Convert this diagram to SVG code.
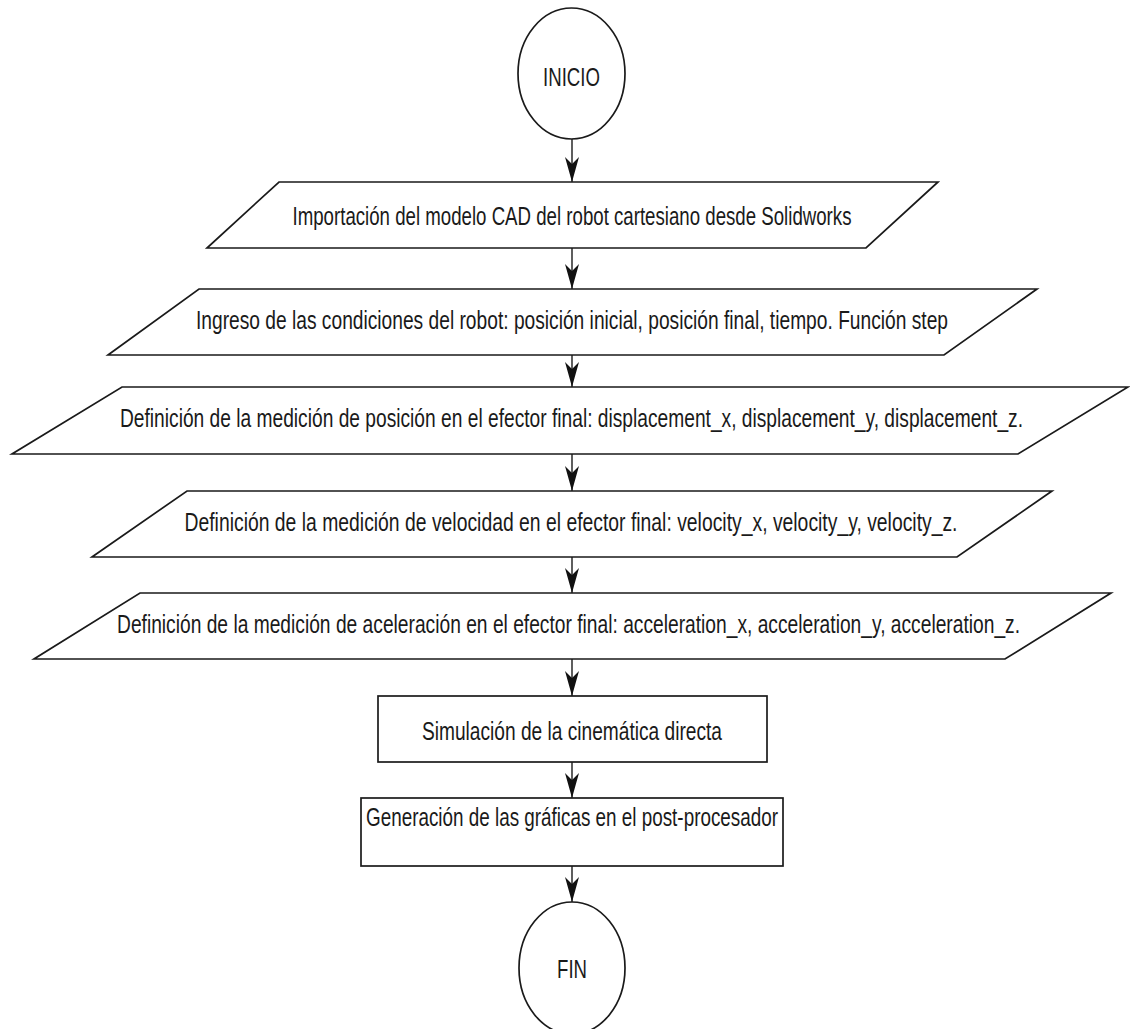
<svg xmlns="http://www.w3.org/2000/svg" width="1130" height="1029" viewBox="0 0 1130 1029">
  <style>
    .shape { fill: #ffffff; stroke: #1a1a1a; stroke-width: 1.7; }
    .lbl { font-family: "Liberation Sans", Arial, sans-serif; font-size: 19px; fill: #1a1a1a; text-anchor: middle; }
    .edge { fill: none; stroke: #1a1a1a; stroke-width: 1.4; }
  </style>
  <defs>
    <marker id="arrow" markerUnits="userSpaceOnUse" markerWidth="26" markerHeight="16" viewBox="0 0 26 16" refX="25" refY="8" orient="auto">
      <path d="M25,8 L0,1 L7,8 L0,15 Z" fill="#111111"/>
    </marker>
  </defs>
  <rect width="1130" height="1029" fill="#ffffff"/>

  <g id="edges">
    <line class="edge" x1="572" y1="139" x2="572" y2="182" marker-end="url(#arrow)"/>
    <line class="edge" x1="572" y1="248" x2="572" y2="289" marker-end="url(#arrow)"/>
    <line class="edge" x1="572" y1="355" x2="572" y2="387" marker-end="url(#arrow)"/>
    <line class="edge" x1="572" y1="454" x2="572" y2="491" marker-end="url(#arrow)"/>
    <line class="edge" x1="572" y1="557" x2="572" y2="593" marker-end="url(#arrow)"/>
    <line class="edge" x1="572" y1="659" x2="572" y2="696" marker-end="url(#arrow)"/>
    <line class="edge" x1="572" y1="762" x2="572" y2="798" marker-end="url(#arrow)"/>
    <line class="edge" x1="572" y1="866" x2="572" y2="902" marker-end="url(#arrow)"/>
  </g>

  <g id="inicio">
    <ellipse class="shape" cx="571.5" cy="73.5" rx="53.5" ry="65.5"/>
    <text class="lbl" transform="translate(571.5,86) scale(1,1.35)" textLength="57" lengthAdjust="spacingAndGlyphs">INICIO</text>
  </g>

  <g id="importacion">
    <polygon class="shape" points="279,182 938,182 866,248 207,248"/>
    <text class="lbl" transform="translate(572,225) scale(1,1.35)" textLength="559" lengthAdjust="spacingAndGlyphs">Importación del modelo CAD del robot cartesiano desde Solidworks</text>
  </g>

  <g id="ingreso">
    <polygon class="shape" points="199,289 1037,289 944,355 108,355"/>
    <text class="lbl" transform="translate(572,329) scale(1,1.35)" textLength="752" lengthAdjust="spacingAndGlyphs">Ingreso de las condiciones del robot: posición inicial, posición final, tiempo. Función step</text>
  </g>

  <g id="posicion">
    <polygon class="shape" points="122,387 1128,387 1018,454 12,454"/>
    <text class="lbl" transform="translate(571.5,427) scale(1,1.35)" textLength="903" lengthAdjust="spacingAndGlyphs">Definición de la medición de posición en el efector final: displacement_x, displacement_y, displacement_z.</text>
  </g>

  <g id="velocidad">
    <polygon class="shape" points="187,491 1052,491 957,557 92,557"/>
    <text class="lbl" transform="translate(571,531) scale(1,1.35)" textLength="773" lengthAdjust="spacingAndGlyphs">Definición de la medición de velocidad en el efector final: velocity_x, velocity_y, velocity_z.</text>
  </g>

  <g id="aceleracion">
    <polygon class="shape" points="140,593 1111,593 1005,659 34,659"/>
    <text class="lbl" transform="translate(568.5,633) scale(1,1.35)" textLength="903" lengthAdjust="spacingAndGlyphs">Definición de la medición de aceleración en el efector final: acceleration_x, acceleration_y, acceleration_z.</text>
  </g>

  <g id="simulacion">
    <rect class="shape" x="378" y="696" width="389" height="66"/>
    <text class="lbl" transform="translate(572,740) scale(1,1.35)" textLength="300" lengthAdjust="spacingAndGlyphs">Simulación de la cinemática directa</text>
  </g>

  <g id="graficas">
    <rect class="shape" x="361" y="798" width="422" height="68"/>
    <text class="lbl" transform="translate(572,826) scale(1,1.35)" textLength="412" lengthAdjust="spacingAndGlyphs">Generación de las gráficas en el post-procesador</text>
  </g>

  <g id="fin">
    <ellipse class="shape" cx="572" cy="968" rx="53" ry="66"/>
    <text class="lbl" transform="translate(572,978) scale(1,1.35)" textLength="30" lengthAdjust="spacingAndGlyphs">FIN</text>
  </g>
</svg>
